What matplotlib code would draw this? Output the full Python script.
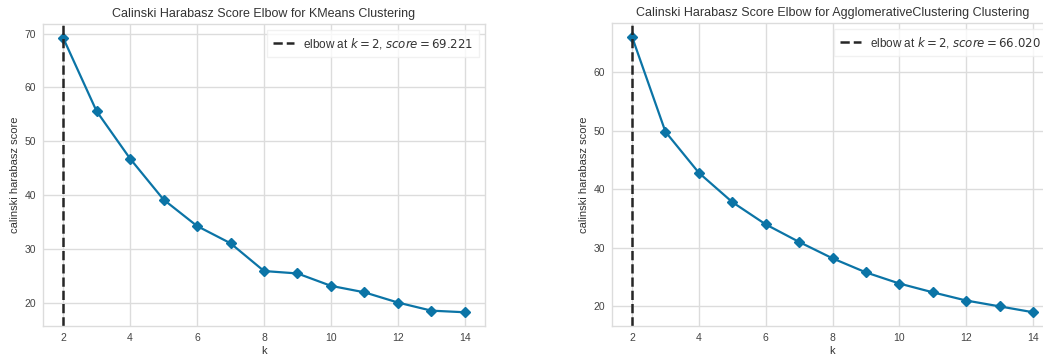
import numpy as np
import matplotlib
matplotlib.use('Agg')
import matplotlib.pyplot as plt

# Valores de k evaluados y puntuaciones Calinski-Harabasz por modelo
k_values = [2, 3, 4, 5, 6, 7, 8, 9, 10, 11, 12, 13, 14]
kmeans_scores = [69.221, 55.6, 46.8, 39.2, 34.3, 31.1, 25.95, 25.5, 23.2, 22.0, 20.1, 18.6, 18.3]
agglo_scores = [66.020, 49.8, 42.8, 37.8, 34.0, 31.0, 28.2, 25.8, 23.9, 22.4, 21.0, 20.0, 19.0]
model_names = ['KMeans', 'AgglomerativeClustering']
elbow_k = [2, 2]

plt.rcParams['font.family'] = ['Liberation Sans', 'DejaVu Sans']
plt.rcParams['mathtext.fontset'] = 'dejavusans'

fig = plt.figure(figsize=(10.43, 3.54), dpi=100)
W, H = 1043, 354
ax1 = fig.add_axes([43 / W, 28 / H, 442 / W, 302 / H])
ax2 = fig.add_axes([612 / W, 28 / H, 441 / W, 303 / H])

for ax, scores, name, ek in zip([ax1, ax2], [kmeans_scores, agglo_scores], model_names, elbow_k):
    ax.set_facecolor('white')
    ax.grid(True, color='#dcdcdc', linewidth=1.0)
    ax.set_axisbelow(True)
    for sp in ax.spines.values():
        sp.set_color('#dcdcdc')
        sp.set_linewidth(1.0)
    ax.tick_params(length=0, labelsize=7.5, labelcolor='#444444', pad=5)

    ax.plot(k_values, scores, marker='D', color='#0b74a6', linewidth=1.6, markersize=5.5)
    score_at = scores[k_values.index(ek)]
    ax.axvline(ek, color='#262626', linestyle='--', linewidth=1.8,
               label='elbow at $k={}$, $score={:0.3f}$'.format(ek, score_at))

    ax.set_title('Calinski Harabasz Score Elbow for {} Clustering'.format(name),
                 fontsize=9, color='#333333', pad=5)
    ax.set_xlabel('k', fontsize=8, color='#333333', labelpad=2)
    ax.set_ylabel('calinski harabasz score', fontsize=8, color='#333333', labelpad=3)
    ax.set_xticks([2, 4, 6, 8, 10, 12, 14])
    leg = ax.legend(loc='upper right', fontsize=8.5, frameon=True, fancybox=False,
                    handlelength=1.8, borderpad=0.5)
    for t in leg.get_texts():
        t.set_color('#333333')
    leg.get_frame().set_facecolor('white')
    leg.get_frame().set_edgecolor('#eeeeee')

fig.savefig('out.png', dpi=100, facecolor='white')
